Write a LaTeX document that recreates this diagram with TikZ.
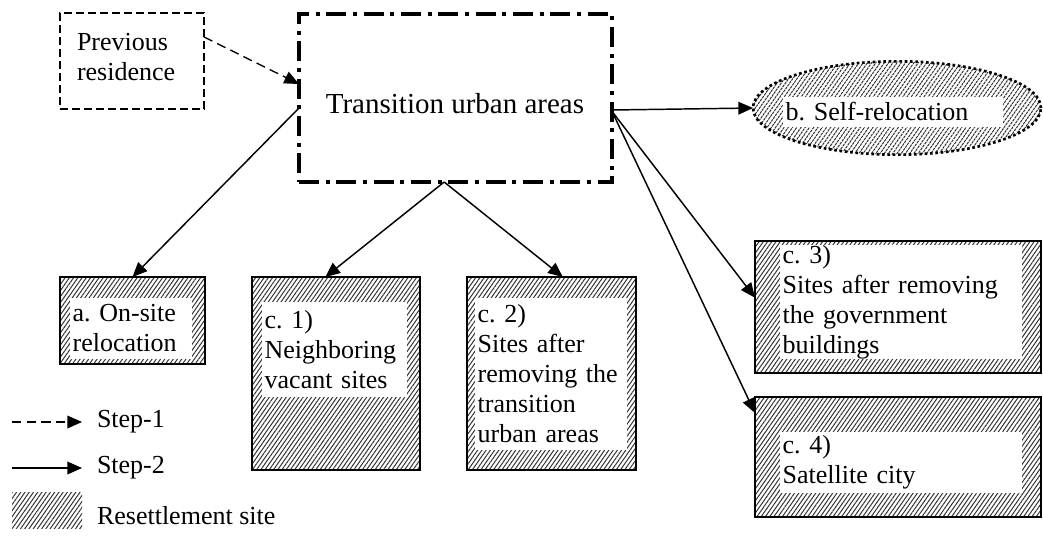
\documentclass[tikz,border=0pt]{standalone}
\usepackage{fontspec}
\setmainfont{Liberation Serif}
\usetikzlibrary{arrows.meta,patterns.meta,shapes.geometric}
\frenchspacing

\begin{document}
\begin{tikzpicture}[x=0.75pt,y=-0.75pt,
  font=\fontsize{19.5}{22.5}\selectfont,
  hatched/.style={pattern={Lines[angle=55,distance=2.6pt,line width=0.75pt]},pattern color=black!80},
  sitebox/.style={rectangle,hatched,draw=black,line width=1.5pt},
  sitetext/.style={fill=white,align=left,anchor=north west,inner xsep=2pt,inner ysep=0pt},
  tip/.style={-{Triangle[length=11pt,width=9.5pt]}},
  stepone/.style={tip,line width=1pt,dash pattern=on 7pt off 4pt},
  steptwo/.style={tip,line width=1.1pt}]
\tikzstyle{every node}+=[inner sep=0pt,outer sep=0pt]
\useasboundingbox (0,0) rectangle (1043,540);
\node[draw,line width=1pt,dash pattern=on 6pt off 3pt,minimum width=108pt,minimum height=72pt] (prev) at (132,61) {};
\node[align=left,anchor=north west] (prevt) at (77,33) {Previous\\residence};
\node[draw,line width=3pt,dash pattern=on 15pt off 5pt on 3pt off 5pt,minimum width=234.75pt,minimum height=126pt] (trans) at (455.5,98) {};
\node[font=\fontsize{21.75}{25}\selectfont] (transt) at (455,104) {Transition urban areas};
\node[ellipse,hatched,draw,line width=2pt,dash pattern=on 2pt off 2pt,minimum width=216pt,minimum height=70pt] (self) at (897,108) {};
\node[sitetext,text width=161pt,minimum height=22.5pt] (selft) at (783,97) {b. Self-relocation};
\node[sitebox,minimum width=108.75pt,minimum height=65.25pt] (onsite) at (132.5,320.5) {};
\node[sitetext,text width=87.5pt,minimum height=45.75pt] (onsitet) at (70,298) {a. On-site\\relocation};
\node[sitebox,minimum width=126pt,minimum height=144.75pt] (cone) at (336,373.5) {};
\node[sitetext,text width=104.75pt,minimum height=71.25pt] (conet) at (262,302) {c. 1)\\Neighboring\\vacant sites};
\node[sitebox,minimum width=126.75pt,minimum height=144.75pt] (ctwo) at (551.5,373.5) {};
\node[sitetext,text width=110pt,minimum height=114pt] (ctwot) at (475,298) {c. 2)\\Sites after\\removing the\\transition\\urban areas};
\node[sitebox,minimum width=214.5pt,minimum height=99pt] (cthree) at (898,307) {};
\node[sitetext,text width=177.5pt,minimum height=84pt] (cthreet) at (780,245) {c. 3)\\Sites after removing\\the government\\buildings};
\node[sitebox,minimum width=214.5pt,minimum height=90pt] (cfour) at (898,457) {};
\node[sitetext,text width=177.5pt,minimum height=45.75pt] (cfourt) at (780,432) {c. 4)\\Satellite city};
\draw[stepone] ([yshift=18pt]prev.east) -- ([yshift=10.5pt]trans.west);
\draw[steptwo] ([yshift=-7.5pt]trans.west) -- (onsite.north);
\draw[steptwo] ([xshift=-8.5pt]trans.south) -- ([xshift=-8pt]cone.north);
\draw[steptwo] ([xshift=-8.5pt]trans.south) -- ([xshift=8.5pt]ctwo.north);
\draw[steptwo] ([yshift=-9pt]trans.east) -- (self.west);
\draw[steptwo] ([yshift=-10pt]trans.east) -- ([yshift=7pt]cthree.west);
\draw[steptwo] ([yshift=-10pt]trans.east) -- ([yshift=33pt]cfour.west);
\coordinate (onea) at (12,422);
\coordinate (oneb) at (82,422);
\node[anchor=west] (onel) at (97,422) {Step-1};
\draw[stepone] (onea) -- (oneb);
\coordinate (twoa) at (12,468);
\coordinate (twob) at (82,468);
\node[anchor=west] (twol) at (97,468) {Step-2};
\draw[steptwo] (twoa) -- (twob);
\node[hatched,minimum width=52.5pt,minimum height=27pt] (site) at (47,510) {};
\node[anchor=west] (sitel) at (97,516) {Resettlement site};
\end{tikzpicture}
\end{document}
